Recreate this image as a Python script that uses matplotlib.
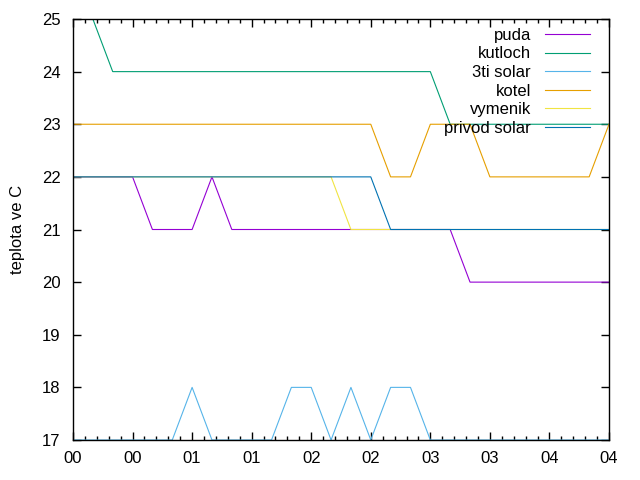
import matplotlib
matplotlib.use("Agg")
import matplotlib.pyplot as plt
from matplotlib.ticker import MultipleLocator, FixedLocator

plt.rcParams['font.family'] = ['Liberation Sans', 'DejaVu Sans']

# time in minutes from start (10-minute samples)
minutes = [10 * i for i in range(28)]

puda = [22, 22, 22, 22, 21, 21, 21, 22, 21, 21, 21, 21, 21, 21, 21, 21, 21, 21, 21, 21,
        20, 20, 20, 20, 20, 20, 20, 20]
kutloch = [25, 25, 24, 24, 24, 24, 24, 24, 24, 24, 24, 24, 24, 24, 24, 24, 24, 24, 24, 23,
           23, 23, 23, 23, 23, 23, 23, 23]
solar3 = [17, 17, 17, 17, 17, 17, 18, 17, 17, 17, 17, 18, 18, 17, 18, 17, 18, 18, 17, 17,
          17, 17, 17, 17, 17, 17, 17, 17]
kotel = [23, 23, 23, 23, 23, 23, 23, 23, 23, 23, 23, 23, 23, 23, 23, 23, 22, 22, 23, 23,
         23, 22, 22, 22, 22, 22, 22, 23]
vymenik = [22, 22, 22, 22, 22, 22, 22, 22, 22, 22, 22, 22, 22, 22, 21, 21, 21, 21, 21, 21,
           21, 21, 21, 21, 21, 21, 21, 21]
privod = [22, 22, 22, 22, 22, 22, 22, 22, 22, 22, 22, 22, 22, 22, 22, 22, 21, 21, 21, 21,
          21, 21, 21, 21, 21, 21, 21, 21]

series_names = ["puda", "kutloch", "3ti solar", "kotel", "vymenik", "privod solar"]
series_vals = [puda, kutloch, solar3, kotel, vymenik, privod]
colors = ["#9400d3", "#009e73", "#56b4e9", "#e69f00", "#f0e442", "#0072b2"]

xtick_labels = ["00", "00", "01", "01", "02", "02", "03", "03", "04", "04"]
ytick_vals = [17, 18, 19, 20, 21, 22, 23, 24, 25]

fig = plt.figure(figsize=(6.4, 4.8), dpi=100)
ax = fig.add_axes([73/640, 40/480, 536/640, 421/480])

for name, vals, c in zip(series_names, series_vals, colors):
    ax.plot(minutes, vals, color=c, lw=0.8, label=name)

ax.set_xlim(0, 270)
ax.set_ylim(17, 25)
ax.xaxis.set_major_locator(FixedLocator([30 * i for i in range(10)]))
ax.set_xticklabels(xtick_labels)
ax.xaxis.set_minor_locator(MultipleLocator(6))
ax.set_yticks(ytick_vals)
ax.tick_params(axis='both', which='both', direction='in', top=True, right=True,
               labelsize=12, colors='black', width=1)
ax.tick_params(which='major', length=6)
ax.tick_params(which='minor', length=3)
ax.tick_params(axis='x', pad=8)
ax.tick_params(axis='y', pad=9)
for s in ax.spines.values():
    s.set_linewidth(1)
ax.set_ylabel("teplota ve C", fontsize=12, labelpad=12)

leg = ax.legend(loc='upper right', bbox_to_anchor=(590/640, 452/480),
                bbox_transform=fig.transFigure, frameon=False, markerfirst=False,
                fontsize=12, handlelength=2.7, handletextpad=0.84, labelspacing=0.21,
                borderpad=0, borderaxespad=0)

fig.savefig("out.png", dpi=100)
